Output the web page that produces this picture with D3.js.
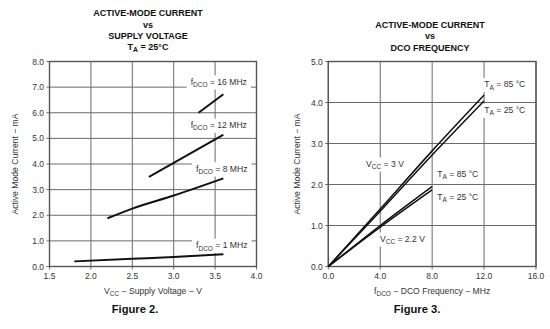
<!DOCTYPE html>
<html><head><meta charset="utf-8">
<script src="https://cdn.jsdelivr.net/npm/d3@7"></script>
<style>
body{margin:0;background:#fff;}
svg{display:block;font-family:"Liberation Sans",Arial,sans-serif;}
</style></head>
<body><svg id="c" width="550" height="329"></svg>
<script>
// ---------- DATA ----------
// Figure 2: current vs supply voltage (TA = 25°C)
const fig2XTicks = [1.5, 2.0, 2.5, 3.0, 3.5, 4.0];
const fig2YTicks = [0, 1, 2, 3, 4, 5, 6, 7, 8];
const fig2Series = [
  {name: "16", points: [[3.3, 6.0], [3.6, 6.72]]},
  {name: "12", points: [[2.7, 3.5], [3.0, 4.04], [3.6, 5.14]]},
  {name: "8",  points: [[2.2, 1.88], [2.5, 2.26], [3.0, 2.77], [3.6, 3.44]]},
  {name: "1",  points: [[1.8, 0.2], [2.5, 0.3], [3.0, 0.37], [3.6, 0.48]]}
];
const fig2Labels = [
  {main: "f", sub: "DCO", rest: " = 16 MHz", x: 3.205, y: 7.09},
  {main: "f", sub: "DCO", rest: " = 12 MHz", x: 3.205, y: 5.4},
  {main: "f", sub: "DCO", rest: " = 8 MHz",  x: 3.27,  y: 3.70},
  {main: "f", sub: "DCO", rest: " = 1 MHz",  x: 3.27,  y: 0.71}
];
// Figure 3: current vs DCO frequency
const fig3XTicks = [0, 4, 8, 12, 16];
const fig3YTicks = [0, 1, 2, 3, 4, 5];
const fig3Series = [
  {name: "3V 85C",   points: [[0, 0], [4, 1.40], [8, 2.82], [12, 4.18]]},
  {name: "3V 25C",   points: [[0, 0], [4, 1.35], [8, 2.72], [12, 4.04]]},
  {name: "2.2V 85C", points: [[0, 0], [4, 1.00], [8, 1.95]]},
  {name: "2.2V 25C", points: [[0, 0], [4, 0.96], [8, 1.87]]}
];
const fig3Labels = [
  {main: "T", sub: "A", rest: " = 85 °C", x: 12.02, y: 4.37},
  {main: "T", sub: "A", rest: " = 25 °C", x: 12.02, y: 3.74},
  {main: "V", sub: "CC", rest: " = 3 V",  x: 2.91,  y: 2.43},
  {main: "T", sub: "A", rest: " = 85 °C", x: 8.4,   y: 2.18},
  {main: "T", sub: "A", rest: " = 25 °C", x: 8.4,   y: 1.62},
  {main: "V", sub: "CC", rest: " = 2.2 V", x: 3.98, y: 0.6}
];

// ---------- DRAW ----------
const svg = d3.select("#c");
const gridCol = "#6a6a6a", frameCol = "#555", textCol = "#333";

function panel(opt) {
  const g = svg.append("g");
  const x = d3.scaleLinear().domain(opt.xDomain).range(opt.xRange);
  const y = d3.scaleLinear().domain(opt.yDomain).range(opt.yRange);
  const [x0, x1] = opt.xRange, [y0, y1] = opt.yRange;
  // gridlines
  g.append("g").selectAll("line.v").data(opt.xTicks).join("line")
    .attr("x1", d => x(d)).attr("x2", d => x(d)).attr("y1", y0 + 3).attr("y2", y1)
    .attr("stroke", gridCol).attr("stroke-width", 1);
  g.append("g").selectAll("line.h").data(opt.yTicks).join("line")
    .attr("x1", x0 - 3).attr("x2", x1).attr("y1", d => y(d)).attr("y2", d => y(d))
    .attr("stroke", gridCol).attr("stroke-width", 1);
  // label boxes (white, hide gridlines)
  const lg = g.append("g");
  opt.labels.forEach(l => {
    const t = lg.append("text").attr("x", x(l.x)).attr("y", y(l.y))
      .attr("font-size", 8.6).attr("fill", textCol);
    t.append("tspan").text(l.main);
    t.append("tspan").attr("font-size", 6.5).attr("dy", 2.2).text(l.sub);
    t.append("tspan").attr("dy", -2.2).text(l.rest);
    const bb = t.node().getBBox();
    lg.insert("rect", "text").attr("x", bb.x - 4).attr("y", bb.y - 1.5)
      .attr("width", bb.width + 8).attr("height", bb.height + 3).attr("fill", "#fff");
  });
  // frame
  g.append("rect").attr("x", x0).attr("y", y1).attr("width", x1 - x0).attr("height", y0 - y1)
    .attr("fill", "none").attr("stroke", frameCol).attr("stroke-width", 1.4);
  // tick labels
  g.append("g").selectAll("text").data(opt.xTicks).join("text")
    .attr("x", d => x(d)).attr("y", y0 + 12.5).attr("text-anchor", "middle")
    .attr("font-size", 8.5).attr("fill", textCol).text(d => d.toFixed(1));
  g.append("g").selectAll("text").data(opt.yTicks).join("text")
    .attr("x", x0 - 5.5).attr("y", d => y(d) + 3).attr("text-anchor", "end")
    .attr("font-size", 8.5).attr("fill", textCol).text(d => d.toFixed(1));
  // series lines
  const line = d3.line().x(d => x(d[0])).y(d => y(d[1])).curve(d3.curveMonotoneX);
  g.append("g").selectAll("path").data(opt.series).join("path")
    .attr("d", d => line(d.points)).attr("fill", "none")
    .attr("stroke", "#111").attr("stroke-width", opt.lineWidth);
  // titles
  opt.titles.forEach(tt => {
    const t = g.append("text").attr("x", opt.titleX).attr("y", tt.y).attr("text-anchor", "middle")
      .attr("font-size", 9).attr("font-weight", "bold").attr("fill", "#111");
    t.append("tspan").text(tt.main);
    if (tt.sub) {
      t.append("tspan").attr("font-size", 6.8).attr("dy", 2.2).text(tt.sub);
      t.append("tspan").attr("dy", -2.2).text(tt.rest);
    }
  });
  // y axis title
  g.append("text").attr("transform", `translate(${opt.yTitleX},${(y0 + y1) / 2}) rotate(-90)`)
    .attr("text-anchor", "middle").attr("font-size", 8.6).attr("fill", textCol)
    .text("Active Mode Current \u2212 mA");
  // x axis title
  const xt = g.append("text").attr("x", (x0 + x1) / 2).attr("y", 293.5).attr("text-anchor", "middle")
    .attr("font-size", 8.6).attr("fill", textCol);
  xt.append("tspan").text(opt.xTitle[0]);
  xt.append("tspan").attr("font-size", 6.5).attr("dy", 2.2).text(opt.xTitle[1]);
  xt.append("tspan").attr("dy", -2.2).text(opt.xTitle[2]);
  // figure caption
  g.append("text").attr("x", opt.figX).attr("y", 313).attr("text-anchor", "middle")
    .attr("font-size", 11.2).attr("font-weight", "bold").attr("fill", "#111").text(opt.fig);
}

panel({
  xDomain: [1.5, 4], xRange: [49.5, 256.5], yDomain: [0, 8], yRange: [266.5, 61.5],
  xTicks: fig2XTicks, yTicks: fig2YTicks, series: fig2Series, labels: fig2Labels,
  lineWidth: 2,
  titleX: 148,
  titles: [{main: "ACTIVE-MODE CURRENT", y: 16}, {main: "vs", y: 27.5},
           {main: "SUPPLY VOLTAGE", y: 39}, {main: "T", sub: "A", rest: " = 25°C", y: 50}],
  yTitleX: 18, xTitle: ["V", "CC", " \u2212 Supply Voltage \u2212 V"], fig: "Figure 2.", figX: 135
});
panel({
  xDomain: [0, 16], xRange: [328.3, 536], yDomain: [0, 5], yRange: [266.5, 61.5],
  xTicks: fig3XTicks, yTicks: fig3YTicks, series: fig3Series, labels: fig3Labels,
  lineWidth: 1.5,
  titleX: 430,
  titles: [{main: "ACTIVE-MODE CURRENT", y: 27.5}, {main: "vs", y: 39}, {main: "DCO FREQUENCY", y: 50.5}],
  yTitleX: 299.5, xTitle: ["f", "DCO", " \u2212 DCO Frequency \u2212 MHz"], fig: "Figure 3.", figX: 417
});
</script>
</body></html>
